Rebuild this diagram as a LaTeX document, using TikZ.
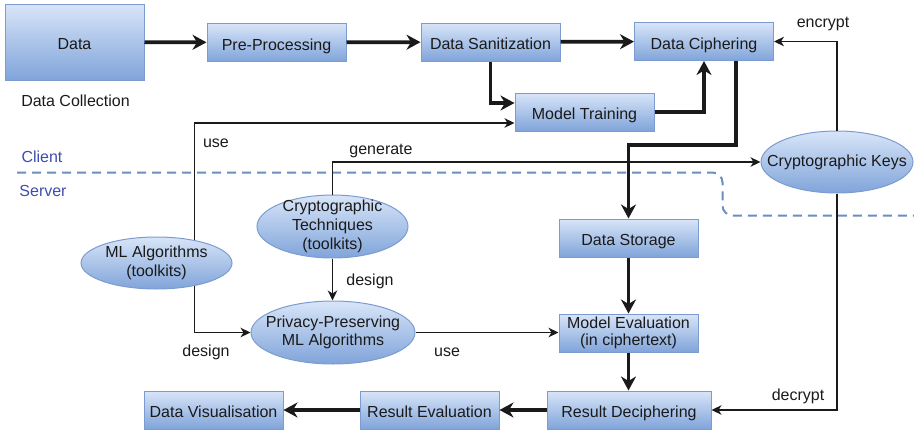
\documentclass[tikz,border=0pt]{standalone}
\usepackage{fontspec}
\setmainfont{Liberation Sans}
\usetikzlibrary{arrows.meta,shapes.geometric,calc}
\definecolor{boxtop}{HTML}{D8E5F8}
\definecolor{boxbot}{HTML}{80A4DA}
\definecolor{boxline}{HTML}{7C9CCF}
\definecolor{zoneline}{HTML}{6C8EBF}
\definecolor{zonetext}{HTML}{3D4DB0}
\definecolor{ink}{HTML}{1A1A1A}
\tikzset{
  every node/.style={font=\fontsize{16}{18.7}\selectfont, text=ink},
  stage/.style={rectangle, draw=boxline, line width=1pt, top color=boxtop, bottom color=boxbot,
    inner sep=0pt, minimum width=139pt, minimum height=38pt, align=center},
  oneline/.style={text height=15pt, text depth=0pt},
  blob/.style={ellipse, draw=boxline, line width=1pt, top color=boxtop, bottom color=boxbot,
    inner xsep=-40pt, inner ysep=-40pt, align=center},
  flow/.style={draw=ink, line width=3.8pt, -{Stealth[length=14pt,width=15pt,inset=4.5pt]}},
  link/.style={draw=ink, line width=1.2pt, -{Stealth[length=10pt,width=9.5pt,inset=3pt]}},
  tag/.style={inner sep=0pt},
  zone/.style={draw=zoneline, line width=2pt, dash pattern=on 9pt off 6pt},
}
\begin{document}
\begin{tikzpicture}[x=1pt,y=-1pt]
\useasboundingbox (0,0) rectangle (914,431);

% client / server boundary
\draw[zone, rounded corners=10pt] (17,172.5) -- (722.5,172.5) -- (722.5,215.5) -- (914,215.5);
\node[tag, text=zonetext] (client) at (42,157) {Client};
\node[tag, text=zonetext] (server) at (43,191) {Server};

% processing stages
\node[stage, oneline, minimum width=139pt, minimum height=76pt] (data) at (74.5,42) {Data};
\node[tag] (collect) at (75.5,101) {Data Collection};
\node[stage, oneline] (pre) at (276.5,42.5) {Pre-Processing};
\node[stage, oneline] (san) at (490.5,42) {Data Sanitization};
\node[stage, oneline] (cip) at (704,41.5) {Data Ciphering};
\node[stage, oneline] (train) at (584.5,112) {Model Training};
\node[stage, oneline] (store) at (628.5,238) {Data Storage};
\node[stage] (meval) at (628.5,333) {Model Evaluation\\[-1pt](in ciphertext)};
\node[stage, oneline, minimum width=164pt] (rdec) at (629,410) {Result Deciphering};
\node[stage, oneline] (reval) at (429.5,410) {Result Evaluation};
\node[stage, oneline] (vis) at (213.5,410) {Data Visualisation};

% toolkits and keys
\node[blob, minimum width=152pt, minimum height=62pt] (keys) at (837,162) {Cryptographic Keys};
\node[blob, minimum width=151pt, minimum height=63pt] (tech) at (332.5,226.5) {Cryptographic\\Techniques\\(toolkits)};
\node[blob, minimum width=151pt, minimum height=52pt] (mlalg) at (156.5,263) {ML Algorithms\\(toolkits)};
\node[blob, minimum width=164pt, minimum height=63pt] (ppml) at (333,332.5) {Privacy-Preserving\\ML Algorithms};

% main data flow
\draw[flow] (data) -- (pre);
\draw[flow] (pre) -- (san);
\draw[flow] (san) -- (cip);
\draw[flow] (san.south) |- ([yshift=9pt]train.west);
\draw[flow] (train.east) -| (cip.south);
\draw[flow] ([xshift=32pt]cip.south) -- ++(0,84) -| (store.north);
\draw[flow] (store) -- (meval);
\draw[flow] (meval) -- (meval.south |- rdec.north);
\draw[flow] (rdec) -- (reval);
\draw[flow] (reval) -- (vis);

% key handling
\draw[link] (keys.north) |- (cip.east);
\draw[link] (keys.south) |- (rdec.east);
\node[tag] (enc) at (823,24) {encrypt};
\node[tag] (dec) at (798,396) {decrypt};

% algorithm design and use
\draw[link] (mlalg.31) |- ([yshift=-11pt]train.west);
\node[tag] (use1) at (216,143) {use};
\draw[link] (mlalg.-31) |- (ppml.west);
\node[tag] (des1) at (206,352) {design};
\draw[link] (tech.north) |- (keys.west);
\node[tag] (gen) at (381,151) {generate};
\draw[link] (tech.south) -- (tech.south |- ppml.north);
\node[tag] (des2) at (370,281) {design};
\draw[link] (ppml.east) -- (meval.west |- ppml.east);
\node[tag] (use2) at (447,352) {use};
\end{tikzpicture}
\end{document}
